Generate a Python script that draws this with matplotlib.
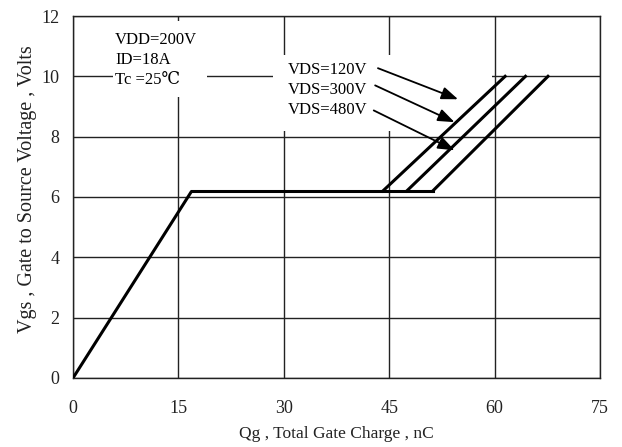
import matplotlib
matplotlib.use("Agg")
import matplotlib.pyplot as plt
from matplotlib.patches import Rectangle

plt.rcParams['font.family'] = ['Liberation Serif', 'DejaVu Serif']

# Data
q_rise = [0, 16.9]
v_rise = [0, 6.2]
plateau_v = 6.2
plateau_end = [44.1, 47.5, 51.2]   # VDS=120, 300, 480 V
top_q = [61.5, 64.4, 67.6]
top_v = 10.0
labels = ["VDS=120V", "VDS=300V", "VDS=480V"]
xticks = [0, 15, 30, 45, 60, 75]
yticks = [0, 2, 4, 6, 8, 10, 12]

fig = plt.figure(figsize=(6.22, 4.47), dpi=100)
ax = fig.add_axes([0.1174, 0.1544, 0.8472, 0.8098])
ax.set_xlim(0, 75)
ax.set_ylim(0, 12)
ax.set_xticks(xticks)
ax.set_yticks(yticks)
ax.grid(True, color='#222222', linewidth=1.0)
ax.set_axisbelow(True)
for s in ax.spines.values():
    s.set_color('#222222')
    s.set_linewidth(1.0)
ax.tick_params(length=0, labelsize=13, colors='#222222')
ax.tick_params(axis='x', pad=16)
ax.tick_params(axis='y', pad=10)

lw = 2.2
ax.plot(q_rise, v_rise, color='black', lw=lw, solid_capstyle='butt', zorder=4)
ax.plot([q_rise[1], plateau_end[-1]], [plateau_v, plateau_v], color='black', lw=lw, zorder=4)
for pe, tq in zip(plateau_end, top_q):
    ax.plot([pe, tq], [plateau_v, top_v], color='black', lw=lw, zorder=4)

# white boxes behind text
ax.add_patch(Rectangle((5.7, 9.3), 13.4, 2.55, facecolor='white', edgecolor='none', zorder=2))
ax.add_patch(Rectangle((28.4, 8.2), 31.3, 2.5, facecolor='white', edgecolor='none', zorder=2))

for txt, y in zip(["VDD=200V", "ID=18A", "Tc =25℃"], [11.2, 10.54, 9.88]):
    ax.text(5.98, y, txt, fontsize=12, va='center', ha='left', zorder=5)
ys = [10.21, 9.55, 8.88]
for lab, y in zip(labels, ys):
    ax.text(30.6, y, lab, fontsize=12, va='center', ha='left', zorder=5)

starts = [(43.4, 10.27), (43.0, 9.70), (42.8, 8.87)]
tips = [(54.8, 9.24), (54.3, 8.48), (54.3, 7.55)]
for s, t in zip(starts, tips):
    ax.annotate("", xy=t, xytext=s,
                arrowprops=dict(arrowstyle='-|>,head_length=1.0,head_width=0.38',
                                color='black', lw=1.3, shrinkA=0, shrinkB=0),
                zorder=6)

ax.set_xlabel("Qg , Total Gate Charge , nC", fontsize=12.5, color='#222222', labelpad=6)
ax.set_ylabel("Vgs , Gate to Source Voltage , Volts", fontsize=14.5, color='#222222')
ax.yaxis.set_label_coords(-0.068, 0.523)

fig.savefig("out.png", dpi=100)
